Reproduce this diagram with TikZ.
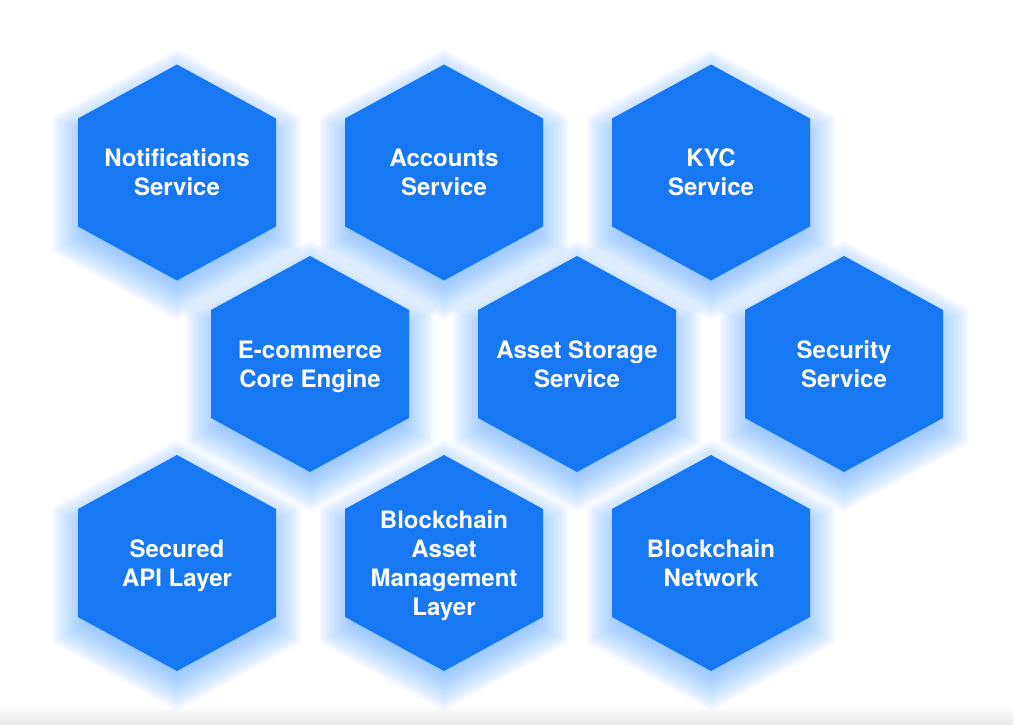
\documentclass[tikz,border=0pt]{standalone}
\usepackage{fontspec}
\setmainfont{TeX Gyre Heros}
\definecolor{hexblue}{RGB}{24,119,242}
\definecolor{glowblue}{RGB}{80,165,255}
\newcommand\hexat[3]{({#1},{#2-108*(#3)}) -- ({#1+99*(#3)},{#2-54*(#3)}) -- ({#1+99*(#3)},{#2+54*(#3)}) -- ({#1},{#2+108*(#3)}) -- ({#1-99*(#3)},{#2+54*(#3)}) -- ({#1-99*(#3)},{#2-54*(#3)}) -- cycle}
\tikzset{
  lbl/.style={text=white, font=\fontsize{24}{29}\selectfont\bfseries, align=center, inner sep=0pt, yshift=-2.9pt},
  hexfill/.style={fill=hexblue},
  glowfill/.style={fill=glowblue, opacity=0.04}
}
\begin{document}
\begin{tikzpicture}[x=1pt,y=-1pt]
\useasboundingbox (0,0) rectangle (1013,725);
\fill[white] (0,0) rectangle (1013,725);
\shade[top color=white, bottom color=black!9] (0,704) rectangle (1013,725);
\def\centers{177/172.5, 444/172.5, 711/172.5, 310/364, 577/364, 844/364, 177/563, 444/563, 711/563}
% glow
\foreach \cx/\cy in \centers {
  \foreach \d in {-24,-22,...,26} {
    \fill[glowfill] \hexat{\cx}{\cy+12}{1+\d/100};
  }
}
% hexagons
\foreach \cx/\cy in \centers {
  \fill[hexfill] \hexat{\cx}{\cy}{1};
}
\node[lbl] (notif) at (177,172.5) {\strut Notifications\\\strut Service};
\node[lbl] (acc) at (444,172.5) {\strut Accounts\\\strut Service};
\node[lbl] (kyc) at (711,172.5) {\strut KYC\\\strut Service};
\node[lbl] (ecom) at (310,364) {\strut E-commerce\\\strut Core Engine};
\node[lbl] (asset) at (577,364) {\strut Asset Storage\\\strut Service};
\node[lbl] (sec) at (844,364) {\strut Security\\\strut Service};
\node[lbl] (api) at (177,563) {\strut Secured\\\strut API Layer};
\node[lbl] (bam) at (444,563) {\strut Blockchain\\\strut Asset\\\strut Management\\\strut Layer};
\node[lbl] (bnet) at (711,563) {\strut Blockchain\\\strut Network};
\end{tikzpicture}
\end{document}
